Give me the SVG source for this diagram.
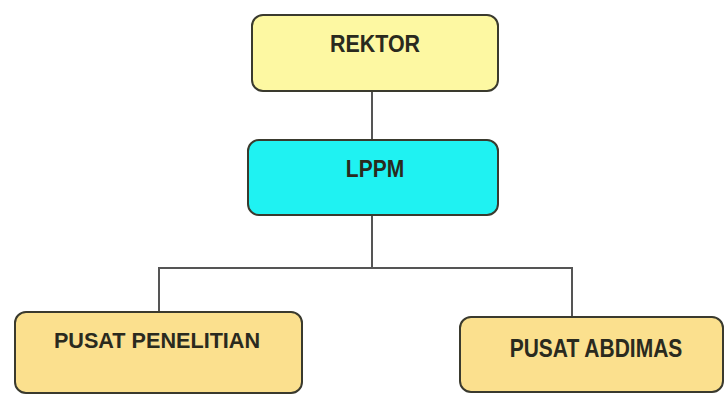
<svg xmlns="http://www.w3.org/2000/svg" width="724" height="394" viewBox="0 0 724 394">
<style>
.box{stroke:#3a3a2e;stroke-width:2}
.t{font-family:"Liberation Sans",Arial,sans-serif;font-weight:bold;font-size:21px;fill:#2a2a1e;text-anchor:middle}
.c{stroke:#555;stroke-width:2;fill:none}
</style>
<rect width="724" height="394" fill="#ffffff"/>
<g id="connectors">
<line class="c" x1="372" y1="91" x2="372" y2="140"/>
<polyline class="c" points="372,215 372,268"/>
<polyline class="c" points="159,312 159,268 572,268 572,317"/>
</g>
<g id="rektor">
<rect class="box" x="252" y="15" width="246" height="76" rx="11" fill="#fdf8a2"/>
<text class="t" transform="translate(375,52) scale(1.02,1.18)">REKTOR</text>
</g>
<g id="lppm">
<rect class="box" x="248" y="140" width="250" height="75" rx="11" fill="#1ff2f2"/>
<text class="t" transform="translate(375,177) scale(1,1.1)">LPPM</text>
</g>
<g id="pusat-penelitian">
<rect class="box" x="15" y="312" width="287" height="81" rx="11" fill="#fbe08e"/>
<text class="t" transform="translate(157,348) scale(1.03,1.05)">PUSAT PENELITIAN</text>
</g>
<g id="pusat-abdimas">
<rect class="box" x="460" y="317" width="263" height="75" rx="11" fill="#fbe08e"/>
<text class="t" transform="translate(596,357) scale(1,1.2)">PUSAT ABDIMAS</text>
</g>
</svg>
